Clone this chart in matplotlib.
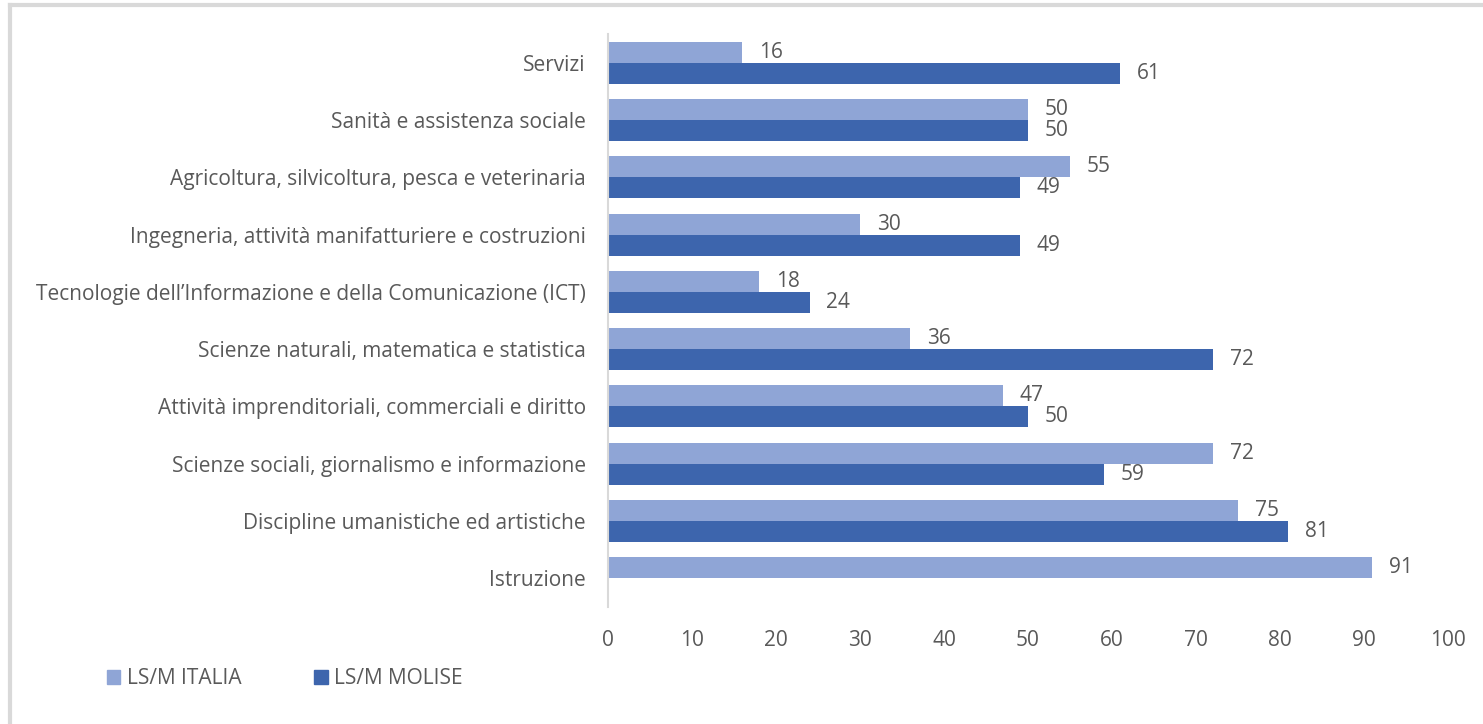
import matplotlib.pyplot as plt
from matplotlib.lines import Line2D
from matplotlib.patches import Patch

# Categories listed bottom to top
categories = [
    "Istruzione",
    "Discipline umanistiche ed artistiche",
    "Scienze sociali, giornalismo e informazione",
    "Attività imprenditoriali, commerciali e diritto",
    "Scienze naturali, matematica e statistica",
    "Tecnologie dell\u2019Informazione e della Comunicazione (ICT)",
    "Ingegneria, attività manifatturiere e costruzioni",
    "Agricoltura, silvicoltura, pesca e veterinaria",
    "Sanità e assistenza sociale",
    "Servizi",
]
italia = [91, 75, 72, 47, 36, 18, 30, 55, 50, 16]
molise = [None, 81, 59, 50, 72, 24, 49, 49, 50, 61]
x_ticks = [0, 10, 20, 30, 40, 50, 60, 70, 80, 90, 100]

LIGHT = "#8FA5D6"
DARK = "#3D65AD"
TEXT = "#595959"
AXIS = "#D9D9D9"
FS = 15

plt.rcParams["font.family"] = ["Open Sans", "DejaVu Sans"]

fig = plt.figure(figsize=(14.83, 7.24), dpi=100)
ax = fig.add_axes([608 / 1483, 1 - 606.6 / 724, 840 / 1483, 572.2 / 724])

h = 0.367
ys = list(range(len(categories)))
for y, vi, vm in zip(ys, italia, molise):
    ax.barh(y + h / 2, vi, height=h, color=LIGHT)
    ax.text(vi + 2, y + h / 2, f"{vi}", va="center", ha="left",
            fontsize=FS, color=TEXT)
    if vm is not None:
        ax.barh(y - h / 2, vm, height=h, color=DARK)
        ax.text(vm + 2, y - h / 2, f"{vm}", va="center", ha="left",
                fontsize=FS, color=TEXT)

ax.set_xlim(0, 100)
ax.set_ylim(-0.5, len(categories) - 0.5)
ax.set_yticks(ys)
ax.set_yticklabels(categories, fontsize=FS, color=TEXT)
ax.set_xticks(x_ticks)
ax.set_xticklabels([str(t) for t in x_ticks], fontsize=FS, color=TEXT)
ax.tick_params(axis="both", length=0)
ax.tick_params(axis="y", pad=16)
ax.tick_params(axis="x", pad=17)
for side in ("top", "right", "bottom"):
    ax.spines[side].set_visible(False)
ax.spines["left"].set_color(AXIS)
ax.spines["left"].set_linewidth(1.5)

handles = [Patch(color=LIGHT, label="LS/M ITALIA"),
           Patch(color=DARK, label="LS/M MOLISE")]
fig.legend(handles=handles, loc="center left", bbox_to_anchor=(88 / 1483, 1 - 679 / 724),
           ncol=2, frameon=False, fontsize=FS, labelcolor=TEXT,
           handlelength=0.65, handleheight=0.65, handletextpad=0.3, columnspacing=3.5)

# outer frame edges
fig.add_artist(Line2D([10 / 1483, 10 / 1483], [0, 1 - 5 / 724], transform=fig.transFigure,
                      color=AXIS, linewidth=3))
fig.add_artist(Line2D([10 / 1483, 1], [1 - 5 / 724, 1 - 5 / 724], transform=fig.transFigure,
                      color=AXIS, linewidth=3))

fig.savefig("out.png", dpi=100)
